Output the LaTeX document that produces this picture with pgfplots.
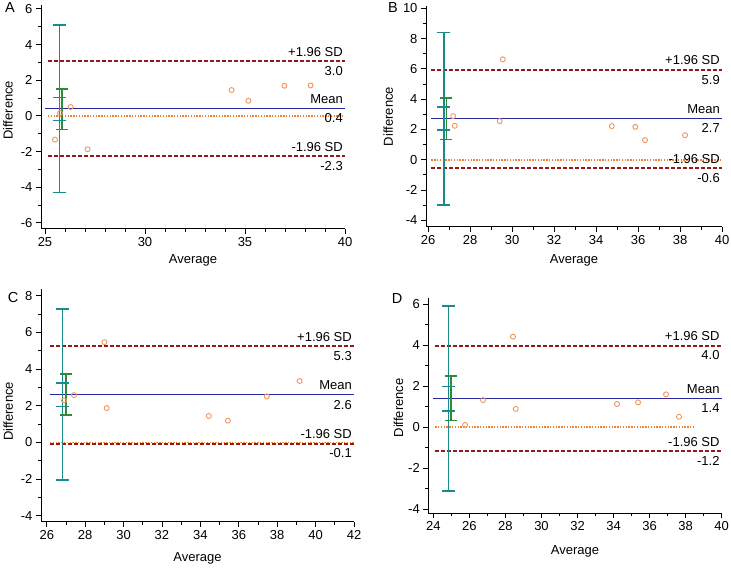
\documentclass[border=0pt]{standalone}
\usepackage{fontspec}
\setmainfont{Liberation Sans}
\usepackage{pgfplots}
\pgfplotsset{compat=1.18}
\definecolor{cteal}{RGB}{26,138,138}
\definecolor{cgreen}{RGB}{45,140,60}
\definecolor{cblue}{RGB}{40,40,160}
\definecolor{cred}{RGB}{145,25,25}
\definecolor{corange}{RGB}{240,130,50}
\definecolor{cpt}{RGB}{238,150,95}
\tikzset{
  lblu/.style={font=\fontsize{13}{15}\selectfont, inner sep=0pt, anchor=south east, xshift=-2pt, yshift=4.5pt},
  lbld/.style={font=\fontsize{13}{15}\selectfont, inner sep=0pt, anchor=north east, xshift=-2pt, yshift=-5pt},
}
\pgfplotsset{
  bastyle/.style={scale only axis, anchor=south west,
    axis x line*=bottom, axis y line*=left,
    axis line style={line width=1pt, -},
    tick style={black, line width=0.9pt},
    major tick length=5pt, minor tick length=3pt, tick align=outside,
    ticklabel style={font=\fontsize{13}{15}\selectfont},
    /pgf/number format/assume math mode=true,
    xlabel=Average, ylabel=Difference,
    label style={font=\fontsize{13}{15}\selectfont},
    y label style={anchor=center},
    x label style={anchor=center},
    clip=false, minor y tick num=1},
  zline/.style={corange, line width=1.6pt, dash pattern=on 1.4pt off 1.4pt},
  sdline/.style={cred, line width=1.8pt, dash pattern=on 4pt off 2pt},
  mline/.style={cblue, line width=1.5pt},
  pts/.style={only marks, mark=o, mark size=2.5pt, cpt, line width=0.9pt},
  tbar/.style={cteal, line width=1.5pt, mark=-, mark size=6.5pt, mark options={solid}},
  tcap/.style={cteal, only marks, line width=1.5pt, mark=-, mark size=6.5pt},
  gbar/.style={cgreen, line width=1.5pt, mark=-, mark size=6pt, mark options={solid}},
}
\begin{document}
\begin{tikzpicture}
\useasboundingbox (0,0) rectangle (731pt,568pt);
% Panel A
\begin{axis}[bastyle, at={(41pt,339pt)}, width=304pt, height=224pt,
  xmin=24.8, xmax=40, ymin=-6.34, ymax=6.22,
  xtick={25,30,35,40}, minor x tick num=4, ytick={-6,-4,...,6},
  y label style={at={(axis description cs:-0.1086,0.53)}},
  x label style={at={(axis description cs:0.5,-0.138)}}]
\addplot[zline] coordinates {(25.15,0) (39.9,0)};
\addplot[sdline] coordinates {(25.15,3.07) (40,3.07)};
\addplot[sdline] coordinates {(25.15,-2.25) (40,-2.25)};
\addplot[mline] coordinates {(25.0,0.42) (40,0.42)};
\addplot[tbar] coordinates {(25.72,5.10) (25.72,-4.28)};
\addplot[tcap] coordinates {(25.72,1.04) (25.72,-0.27)};
\addplot[gbar] coordinates {(25.84,1.52) (25.84,-0.75)};
\addplot[pts] coordinates {(25.50,-1.33) (25.75,0.16) (26.28,0.50) (27.13,-1.87) (34.33,1.45) (35.17,0.85) (36.97,1.69) (38.28,1.71)};
\node[lblu] at (axis cs:40,3.07) {+1.96 SD};
\node[lbld] at (axis cs:40,3.07) {3.0};
\node[lblu] at (axis cs:40,0.42) {Mean};
\node[lbld] at (axis cs:40,0.42) {0.4};
\node[lblu] at (axis cs:40,-2.25) {-1.96 SD};
\node[lbld] at (axis cs:40,-2.25) {-2.3};
\end{axis}
% Panel B
\begin{axis}[bastyle, at={(426pt,341pt)}, width=296pt, height=221pt,
  xmin=25.9, xmax=40, ymin=-4.44, ymax=10.15,
  xtick={26,28,...,40}, minor x tick num=1, ytick={-4,-2,...,10},
  y label style={at={(axis description cs:-0.128,0.5)}},
  x label style={at={(axis description cs:0.5,-0.149)}}]
\addplot[zline] coordinates {(26.16,0) (40,0)};
\addplot[sdline] coordinates {(26.16,5.94) (40,5.94)};
\addplot[sdline] coordinates {(26.16,-0.54) (40,-0.54)};
\addplot[mline] coordinates {(26.16,2.72) (40,2.72)};
\addplot[tbar] coordinates {(26.75,8.41) (26.75,-3.0)};
\addplot[tcap] coordinates {(26.75,3.47) (26.75,1.95)};
\addplot[gbar] coordinates {(26.87,4.09) (26.87,1.34)};
\addplot[pts] coordinates {(27.19,2.88) (27.27,2.24) (29.41,2.55) (29.56,6.63) (34.75,2.22) (35.87,2.17) (36.33,1.29) (38.24,1.62)};
\node[lblu] at (axis cs:40,5.94) {+1.96 SD};
\node[lbld] at (axis cs:40,5.94) {5.9};
\node[lblu] at (axis cs:40,2.72) {Mean};
\node[lbld] at (axis cs:40,2.72) {2.7};
\node[lblu] at (axis cs:40,-0.54) {-1.96 SD};
\node[lbld] at (axis cs:40,-0.54) {-0.6};
\end{axis}
% Panel C
\begin{axis}[bastyle, at={(41pt,46.3pt)}, width=313pt, height=232.7pt,
  xmin=25.7, xmax=42, ymin=-4.33, ymax=8.37,
  xtick={26,28,...,42}, minor x tick num=1, ytick={-4,-2,...,8},
  y label style={at={(axis description cs:-0.105,0.474)}},
  x label style={at={(axis description cs:0.5,-0.159)}}]
\addplot[zline] coordinates {(26.17,0) (42,0)};
\addplot[sdline] coordinates {(26.17,5.25) (42,5.25)};
\addplot[sdline] coordinates {(26.17,-0.07) (42,-0.07)};
\addplot[mline] coordinates {(26.17,2.6) (42,2.6)};
\addplot[tbar] coordinates {(26.83,7.27) (26.83,-2.05)};
\addplot[tcap] coordinates {(26.83,3.24) (26.83,1.96)};
\addplot[gbar] coordinates {(26.99,3.73) (26.99,1.49)};
\addplot[pts] coordinates {(26.90,2.29) (27.42,2.58) (29.00,5.47) (29.12,1.87) (34.44,1.44) (35.43,1.18) (37.46,2.51) (39.17,3.35)};
\node[lblu] at (axis cs:42,5.25) {+1.96 SD};
\node[lbld] at (axis cs:42,5.25) {5.3};
\node[lblu] at (axis cs:42,2.6) {Mean};
\node[lbld] at (axis cs:42,2.6) {2.6};
\node[lblu] at (axis cs:42,-0.07) {-1.96 SD};
\node[lbld] at (axis cs:42,-0.07) {-0.1};
\end{axis}
% Panel D
\begin{axis}[bastyle, at={(428.3pt,54.7pt)}, width=293.4pt, height=215.3pt,
  xmin=23.72, xmax=40, ymin=-4.19, ymax=6.29,
  xtick={24,26,...,40}, minor x tick num=1, ytick={-4,-2,...,6},
  y label style={at={(axis description cs:-0.102,0.49)}},
  x label style={at={(axis description cs:0.5,-0.175)}}]
\addplot[zline] coordinates {(24.1,0) (38.43,0)};
\addplot[sdline] coordinates {(24.1,3.97) (40,3.97)};
\addplot[sdline] coordinates {(24.1,-1.17) (40,-1.17)};
\addplot[mline] coordinates {(24.0,1.41) (40,1.41)};
\addplot[tbar] coordinates {(24.83,5.90) (24.83,-3.11)};
\addplot[tcap] coordinates {(24.83,1.99) (24.83,0.79)};
\addplot[gbar] coordinates {(24.98,2.49) (24.98,0.33)};
\addplot[pts] coordinates {(25.76,0.11) (26.76,1.32) (28.42,4.41) (28.57,0.89) (34.19,1.13) (35.36,1.21) (36.91,1.60) (37.63,0.51)};
\node[lblu] at (axis cs:40,3.97) {+1.96 SD};
\node[lbld] at (axis cs:40,3.97) {4.0};
\node[lblu] at (axis cs:40,1.41) {Mean};
\node[lbld] at (axis cs:40,1.41) {1.4};
\node[lblu] at (axis cs:40,-1.17) {-1.96 SD};
\node[lbld] at (axis cs:40,-1.17) {-1.2};
\end{axis}
\node[font=\fontsize{14.5}{16}\selectfont] at (10pt,560pt) {A};
\node[font=\fontsize{14.5}{16}\selectfont] at (393pt,560pt) {B};
\node[font=\fontsize{14.5}{16}\selectfont] at (13pt,270pt) {C};
\node[font=\fontsize{14.5}{16}\selectfont] at (397pt,269pt) {D};
\end{tikzpicture}
\end{document}
